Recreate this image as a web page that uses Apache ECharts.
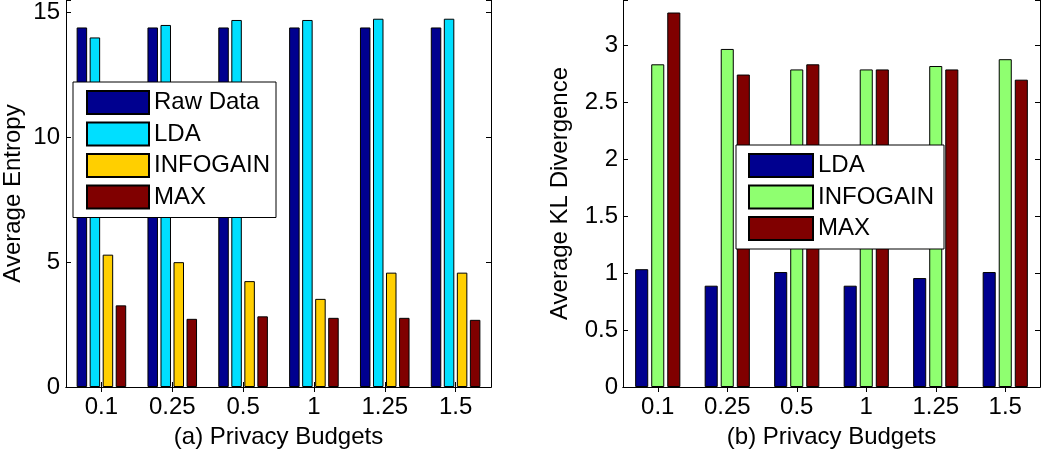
<!DOCTYPE html>
<html>
<head>
<meta charset="utf-8">
<script src="https://cdn.jsdelivr.net/npm/echarts@6/dist/echarts.min.js"></script>
<style>html,body{margin:0;padding:0;background:#fff;}#c{width:1050px;height:454px;}</style>
</head>
<body>
<div id="c"></div>
<script>
const categories = ['0.1', '0.25', '0.5', '1', '1.25', '1.5'];
// (a) Average Entropy
const entropyRaw = [14.4, 14.4, 14.4, 14.4, 14.4, 14.4];
const entropyLDA = [14.0, 14.5, 14.7, 14.7, 14.75, 14.75];
const entropyInfogain = [5.3, 5.0, 4.24, 3.53, 4.58, 4.58];
const entropyMax = [3.27, 2.73, 2.83, 2.77, 2.77, 2.69];
// (b) Average KL Divergence
const klLDA = [1.035, 0.89, 1.01, 0.89, 0.957, 1.01];
const klInfogain = [2.835, 2.97, 2.79, 2.79, 2.82, 2.88];
const klMax = [3.29, 2.745, 2.835, 2.79, 2.79, 2.70];
// tick labels
const entropyTicks = [0, 5, 10, 15];
const klTicks = [0, 0.5, 1, 1.5, 2, 2.5, 3];

const FONT = 'Liberation Sans, Arial, Helvetica, sans-serif';
const txt = { color: '#000', fontSize: 24, fontFamily: FONT };
const line = { show: true, lineStyle: { color: '#000', width: 1 } };
const tickIn = { show: true, inside: true, length: 5, lineStyle: { color: '#000', width: 1 } };

function xAxes(gi, name) {
  return [
    { type: 'category', gridIndex: gi, data: categories, position: 'bottom',
      axisLine: line, axisTick: Object.assign({ alignWithLabel: true }, tickIn),
      axisLabel: Object.assign({ margin: 8, interval: 0 }, txt),
      name: name, nameLocation: 'middle', nameGap: 38, nameTextStyle: txt },
    { type: 'category', gridIndex: gi, data: categories, position: 'top',
      axisLine: line, axisTick: Object.assign({ alignWithLabel: true }, tickIn),
      axisLabel: { show: false } }
  ];
}
function yAxes(gi, max, interval, ticks, name, gap, margin) {
  const fmt = v => {
    const hit = ticks.find(t => Math.abs(t - v) < 1e-9);
    return hit === undefined ? '' : String(hit);
  };
  return [
    { type: 'value', gridIndex: gi, min: 0, max: max, interval: interval, position: 'left',
      axisLine: line, axisTick: tickIn, splitLine: { show: false },
      axisLabel: Object.assign({ margin: margin, formatter: fmt, showMaxLabel: true }, txt),
      name: name, nameLocation: 'middle', nameGap: gap, nameTextStyle: txt },
    { type: 'value', gridIndex: gi, min: 0, max: max, interval: interval, position: 'right',
      axisLine: line, axisTick: tickIn, splitLine: { show: false }, axisLabel: { show: false } }
  ];
}
function bar(name, data, color, xi, yi, cat, gap) {
  return { type: 'bar', name: name, data: data, xAxisIndex: xi, yAxisIndex: yi,
    barCategoryGap: cat, barGap: gap,
    itemStyle: { color: color, borderColor: '#000', borderWidth: 1 } };
}

const chart = echarts.init(document.getElementById('c'), null, { renderer: 'canvas' });
chart.setOption({
  animation: false,
  backgroundColor: '#fff',
  grid: [
    { left: 66, top: 0, width: 425, height: 392 },
    { left: 623, top: 0, width: 417, height: 392 }
  ],
  xAxis: xAxes(0, '(a) Privacy Budgets').concat(xAxes(1, '(b) Privacy Budgets')),
  yAxis: yAxes(0, 15.5, 5, entropyTicks, 'Average Entropy', 41, 6)
    .concat(yAxes(1, 3.4, 0.5, klTicks, 'Average KL Divergence', 51, 5)),
  legend: [
    { orient: 'vertical', left: 73, top: 82, itemWidth: 62, itemHeight: 23, itemGap: 6.5,
      padding: [8, 6, 8, 13], backgroundColor: '#fff', borderColor: '#000', borderWidth: 1,
      textStyle: txt, icon: 'rect', z: 10,
      data: ['Raw Data', 'LDA', 'INFOGAIN', 'MAX'] },
    { orient: 'vertical', left: 736, top: 145, itemWidth: 64, itemHeight: 23, itemGap: 6.5,
      padding: [8, 10, 8, 12], backgroundColor: '#fff', borderColor: '#000', borderWidth: 1,
      textStyle: txt, icon: 'rect', z: 10,
      formatter: n => n.replace(' (b)', ''),
      data: ['LDA (b)', 'INFOGAIN (b)', 'MAX (b)'] }
  ],
  series: [
    bar('Raw Data', entropyRaw, '#00008F', 0, 0, '30%', '24%'),
    bar('LDA', entropyLDA, '#00DFFF', 0, 0, '30%', '24%'),
    bar('INFOGAIN', entropyInfogain, '#FFCF00', 0, 0, '30%', '24%'),
    bar('MAX', entropyMax, '#800000', 0, 0, '30%', '24%'),
    bar('LDA (b)', klLDA, '#00008F', 2, 2, '35%', '23%'),
    bar('INFOGAIN (b)', klInfogain, '#8FFF70', 2, 2, '35%', '23%'),
    bar('MAX (b)', klMax, '#800000', 2, 2, '35%', '23%')
  ]
});
</script>
</body>
</html>
